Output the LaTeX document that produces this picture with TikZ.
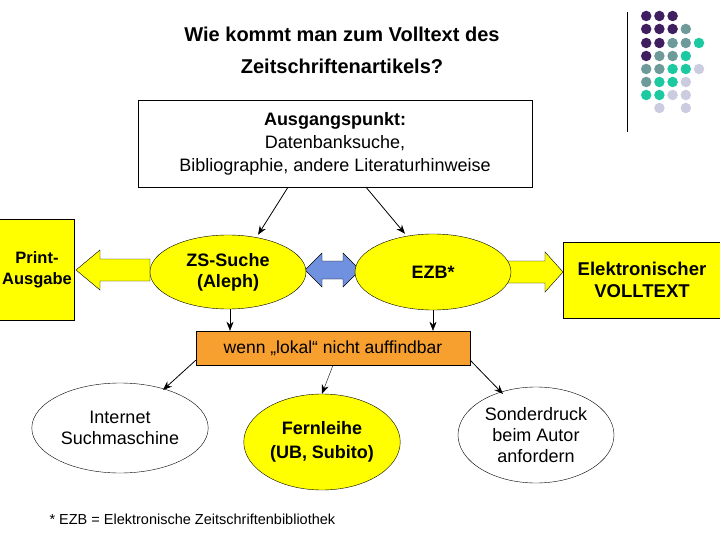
\documentclass[tikz,border=0pt]{standalone}
\usepackage{fontspec}
\setmainfont{Liberation Sans}
\usetikzlibrary{shapes.geometric,arrows.meta}
\definecolor{yel}{HTML}{FFFF00}
\definecolor{org}{HTML}{F7A030}
\definecolor{blu}{HTML}{7090E0}
\definecolor{dP}{HTML}{3F1F5F}
\definecolor{dG}{HTML}{6E9A9A}
\definecolor{dT}{HTML}{1DC9A0}
\definecolor{dL}{HTML}{CCCCE0}
\tikzset{
 ell/.style={ellipse,draw=black,thin,align=center,font=\fontsize{18}{21}\selectfont},
 yb/.style={draw=black,fill=yel,align=center,font=\fontsize{18.5}{22}\selectfont\bfseries},
 arr/.style={-{Stealth[length=9pt,width=7pt]},thick},
 dot/.style={circle,inner sep=0pt,minimum size=10.5pt}
}
\begin{document}
\begin{tikzpicture}[x=1pt,y=-1pt]
\useasboundingbox (0,0) rectangle (720,540);
\node[align=center,font=\fontsize{20}{32}\selectfont\bfseries] (title) at (342,50) {Wie kommt man zum Volltext des\\Zeitschriftenartikels?};
\draw[thin] (627,12) coordinate (v1) -- (627,132) coordinate (v2);
\foreach \row/\cols in {16/{P,P,P},29/{P,P,P,G},43/{P,P,G,G,T},56/{P,G,G,T},69/{G,G,T,T,L},82/{G,T,T,L},95/{T,T,L,L}}{
  \foreach \c [count=\i] in \cols {
    \node[dot,fill=d\c] (d\row\i) at (633+13.2*\i,\row) {};
  }
}
\node[dot,fill=dL] (e1) at (659.4,108) {};
\node[dot,fill=dL] (e2) at (685.8,108) {};
\node[draw=black,minimum width=394pt,minimum height=87pt,align=center,font=\fontsize{18}{23}\selectfont] (top) at (335,143.5) {\textbf{Ausgangspunkt:}\\Datenbanksuche,\\Bibliographie, andere Literaturhinweise};
\node[yb,minimum width=75pt,minimum height=101pt,inner sep=1pt,font=\fontsize{16.5}{21}\selectfont\bfseries] (print) at (37,270) {Print-\\Ausgabe};
\node[yb,minimum width=157pt,minimum height=76pt] (elek) at (642,280) {Elektronischer\\VOLLTEXT};
\draw[fill=yel] (150,259) -- (100,259) -- (100,250) -- (76,270) -- (100,290) -- (100,281) -- (150,281) -- cycle;
\draw[fill=yel] (505,261) -- (545,261) -- (545,252) -- (563,272) -- (545,292) -- (545,283) -- (505,283) -- cycle;
\draw[fill=blu] (305,270) -- (322,253) -- (322,261) -- (343,261) -- (343,253) -- (360,270) -- (343,287) -- (343,279) -- (322,279) -- (322,287) -- cycle;
\node[ell,fill=yel,minimum width=156pt,minimum height=74pt,font=\fontsize{18}{21}\selectfont\bfseries] (zs) at (228,272) {ZS-Suche\\(Aleph)};
\node[ell,fill=yel,minimum width=156pt,minimum height=76pt,font=\fontsize{18}{21}\selectfont\bfseries] (ezb) at (433,272) {EZB*};
\node[draw=black,fill=org,minimum width=274pt,minimum height=34pt,font=\fontsize{17.5}{20}\selectfont] (lok) at (333,348) {wenn „lokal“ nicht auffindbar};
\node[ell,fill=white,minimum width=160pt,minimum height=90pt] (inet) at (120,428) {Internet\\Suchmaschine};
\node[ell,fill=yel,minimum width=150pt,minimum height=96pt,font=\fontsize{18}{24}\selectfont\bfseries] (fern) at (322,442) {Fernleihe\\(UB, Subito)};
\node[ell,fill=white,minimum width=156pt,minimum height=96pt] (sond) at (536,435) {Sonderdruck\\beim Autor\\anfordern};
\node[anchor=west,font=\fontsize{14.5}{16}\selectfont] (foot) at (46,519) {* EZB = Elektronische Zeitschriftenbibliothek};
\draw[arr] (top.south -| 288,0) -- (zs.north -| 258,0);
\draw[arr] (top.south -| 366,0) -- (ezb.north -| 405,0);
\draw[arr,thin] (zs.south -| 230,0) -- (lok.north -| 230,0);
\draw[arr,thin] (433,310) -- (lok.north -| 433,0);
\draw[arr] (lok.south west) ++(0,-5) -- (163,390);
\draw[arr,thin] (lok.south) -- (fern.north);
\draw[arr] (lok.south east) ++(0,-5) -- (503,394);
\end{tikzpicture}
\end{document}
